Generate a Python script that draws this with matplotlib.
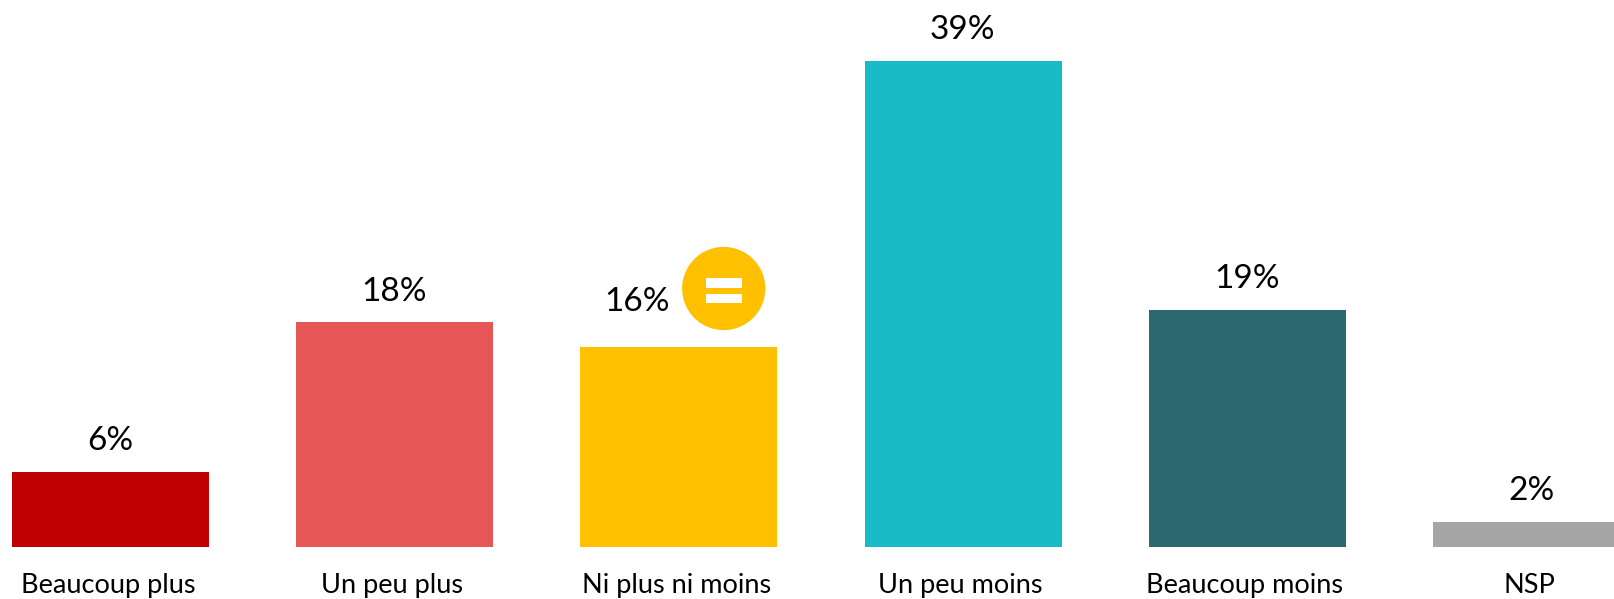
import matplotlib
matplotlib.use("Agg")
import matplotlib.pyplot as plt
import matplotlib.patches as patches

categories = ["Beaucoup plus", "Un peu plus", "Ni plus ni moins", "Un peu moins", "Beaucoup moins", "NSP"]
values = [6, 18, 16, 39, 19, 2]
colors = ["#C00000", "#E55757", "#FFC000", "#19BCC6", "#2C6970", "#A6A6A6"]

W, H = 1614, 599
x_step = 284.2   # px between bars
y_step = 12.45   # px per percent
x0 = 110.5
y0 = 546.5

plt.rcParams['font.family'] = ['Lato', 'DejaVu Sans']

fig = plt.figure(figsize=(W / 100, H / 100), dpi=100)
ax = fig.add_axes([0, 0, 1, 1])
xs = list(range(len(categories)))
ax.bar(xs, values, width=197 / x_step, color=colors)
ax.set_xlim(-x0 / x_step, (W - x0) / x_step)
ax.set_ylim(-(H - y0) / y_step, y0 / y_step)
ax.axis("off")

for x, v, c in zip(xs, values, categories):
    if c == "Ni plus ni moins":
        # label pushed left to leave room for the badge
        ax.annotate(f"{v}%", (x, v), xytext=(-42, 45), textcoords="offset pixels",
                    ha="center", va="center", fontsize=24, color="black")
    else:
        ax.annotate(f"{v}%", (x, v), xytext=(-0.5, 30.5), textcoords="offset pixels",
                    ha="center", va="center", fontsize=24, color="black")
    ax.annotate(c, (x, 0), xytext=(-2.5, -39), textcoords="offset pixels",
                ha="center", va="center", fontsize=19.5, color="black")

# "=" badge, overlay in pixel coordinates
over = fig.add_axes([0, 0, 1, 1])
over.set_xlim(0, W)
over.set_ylim(H, 0)
over.axis("off")
over.patch.set_alpha(0)
over.add_patch(patches.Circle((723.7, 288.5), 41.6, color="#FFC000", lw=0))
over.add_patch(patches.Rectangle((705.7, 278), 36.5, 9.5, color="white", lw=0))
over.add_patch(patches.Rectangle((705.7, 293.7), 36.5, 9.2, color="white", lw=0))

fig.savefig("out.png", dpi=100)
